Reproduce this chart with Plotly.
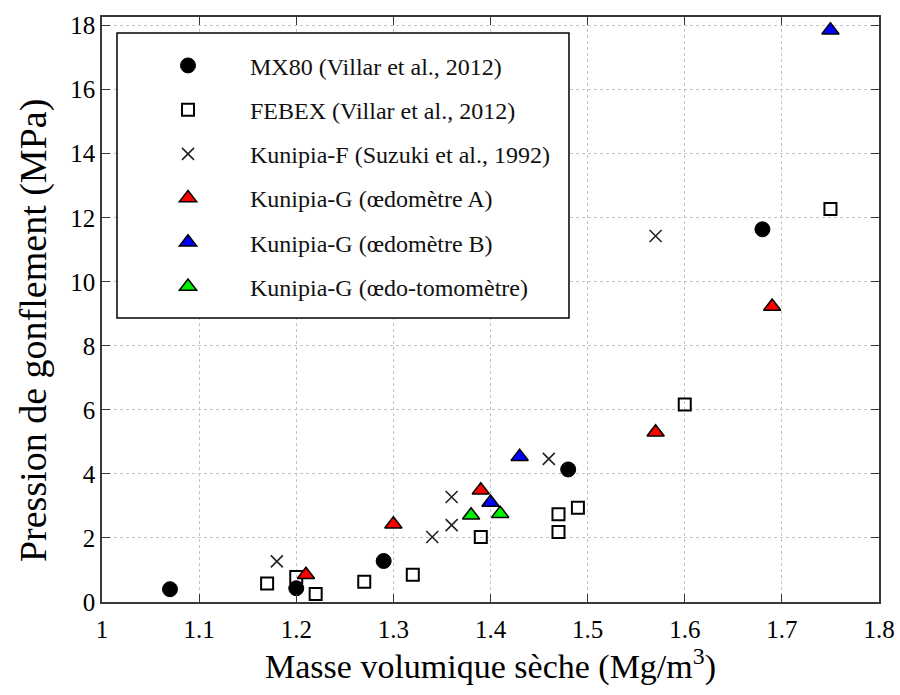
import plotly.graph_objects as go

# ---- data ----
mx80_x = [1.07, 1.20, 1.29, 1.48, 1.68]
mx80_y = [0.40, 0.43, 1.28, 4.14, 11.64]

febex_x = [1.17, 1.20, 1.22, 1.27, 1.32, 1.39, 1.47, 1.47, 1.49, 1.60, 1.75]
febex_y = [0.58, 0.78, 0.25, 0.63, 0.85, 2.03, 2.74, 2.19, 2.94, 6.17, 12.27]

kunf_x = [1.18, 1.34, 1.36, 1.36, 1.46, 1.57]
kunf_y = [1.27, 2.03, 2.40, 3.28, 4.47, 11.43]

kungA_x = [1.21, 1.30, 1.39, 1.57, 1.69]
kungA_y = [0.85, 2.43, 3.49, 5.30, 9.23]

kungB_x = [1.40, 1.43, 1.75]
kungB_y = [3.11, 4.54, 17.86]

kungT_x = [1.38, 1.41]
kungT_y = [2.71, 2.76]

names = [
    "MX80 (Villar et al., 2012)",
    "FEBEX (Villar et al., 2012)",
    "Kunipia-F (Suzuki et al., 1992)",
    "Kunipia-G (œdomètre A)",
    "Kunipia-G (œdomètre B)",
    "Kunipia-G (œdo-tomomètre)",
]

x_tickvals = [1.0, 1.1, 1.2, 1.3, 1.4, 1.5, 1.6, 1.7, 1.8]
x_ticktext = ["1", "1.1", "1.2", "1.3", "1.4", "1.5", "1.6", "1.7", "1.8"]
y_tickvals = [0, 2, 4, 6, 8, 10, 12, 14, 16, 18]

x_title = "Masse volumique sèche (Mg/m<sup>3</sup>)"
y_title = "Pression de gonflement (MPa)"

FONT = "Liberation Serif"

fig = go.Figure()

# drawing order: FEBEX below MX80, triangles on top
fig.add_trace(go.Scatter(
    x=febex_x, y=febex_y, mode="markers", name=names[1], legendrank=2,
    legendgroup="b",
    marker=dict(symbol="square-open", size=12, color="black",
                line=dict(width=2, color="black"))))
fig.add_trace(go.Scatter(
    x=mx80_x, y=mx80_y, mode="markers", name=names[0], legendrank=1,
    legendgroup="a",
    marker=dict(symbol="circle", size=15, color="black",
                line=dict(width=1, color="black"))))
fig.add_trace(go.Scatter(
    x=kunf_x, y=kunf_y, mode="markers", name=names[2], legendrank=3,
    legendgroup="c",
    marker=dict(symbol="x-thin", size=12, color="#222222",
                line=dict(width=1.6, color="#222222"))))
fig.add_trace(go.Scatter(
    x=kungA_x, y=kungA_y, mode="markers", name=names[3], legendrank=4,
    legendgroup="d",
    marker=dict(symbol="triangle-up", size=15, color="#ff0000",
                line=dict(width=1.5, color="black"))))
fig.add_trace(go.Scatter(
    x=kungB_x, y=kungB_y, mode="markers", name=names[4], legendrank=5,
    legendgroup="e",
    marker=dict(symbol="triangle-up", size=15, color="#0000ff",
                line=dict(width=1.5, color="black"))))
fig.add_trace(go.Scatter(
    x=kungT_x, y=kungT_y, mode="markers", name=names[5], legendrank=6,
    legendgroup="f",
    marker=dict(symbol="triangle-up", size=15, color="#00ee00",
                line=dict(width=1.5, color="black"))))

axis_common = dict(
    showline=True, linecolor="#383838", linewidth=1.5, mirror="ticks",
    ticks="inside", ticklen=8, tickwidth=1.3, tickcolor="#383838",
    showgrid=True, gridcolor="#c4c4c4", gridwidth=1, griddash="dot",
    zeroline=False, automargin=False,
    tickfont=dict(family=FONT, size=25, color="black"),
)

fig.update_layout(
    width=900, height=695,
    margin=dict(l=102, r=21, t=17, b=93),
    paper_bgcolor="white", plot_bgcolor="white",
    font=dict(family=FONT, color="black"),
    xaxis=dict(range=[1, 1.8], tickvals=x_tickvals, ticktext=x_ticktext,
               ticklabelstandoff=4,
               title=dict(text=x_title,
                          font=dict(family=FONT, size=34), standoff=5),
               **axis_common),
    yaxis=dict(range=[0, 18.27], tickvals=y_tickvals, **axis_common),
    annotations=[dict(text=y_title, textangle=-90, xref="paper", yref="paper",
                      x=-0.0888, y=0.4632, xanchor="center", yanchor="middle",
                      showarrow=False, font=dict(family=FONT, size=38))],
    showlegend=True,
    legend=dict(x=0.0309, y=0.955, xanchor="left", yanchor="top",
                bgcolor="rgba(0,0,0,0)", borderwidth=0,
                font=dict(family=FONT, size=24, color="#111111"),
                itemwidth=114, tracegroupgap=10,
                traceorder="grouped"),
    shapes=[dict(type="rect", xref="paper", yref="paper",
                 x0=0.0193, x1=0.601, y0=0.4855, y1=0.9726,
                 line=dict(color="black", width=1.5),
                 fillcolor="white", layer="above")],
)

fig.write_html(
    "out.html",
    config={"displayModeBar": False},
    post_script="document.body.style.margin='0px';"
                "document.body.style.overflow='hidden';",
)
